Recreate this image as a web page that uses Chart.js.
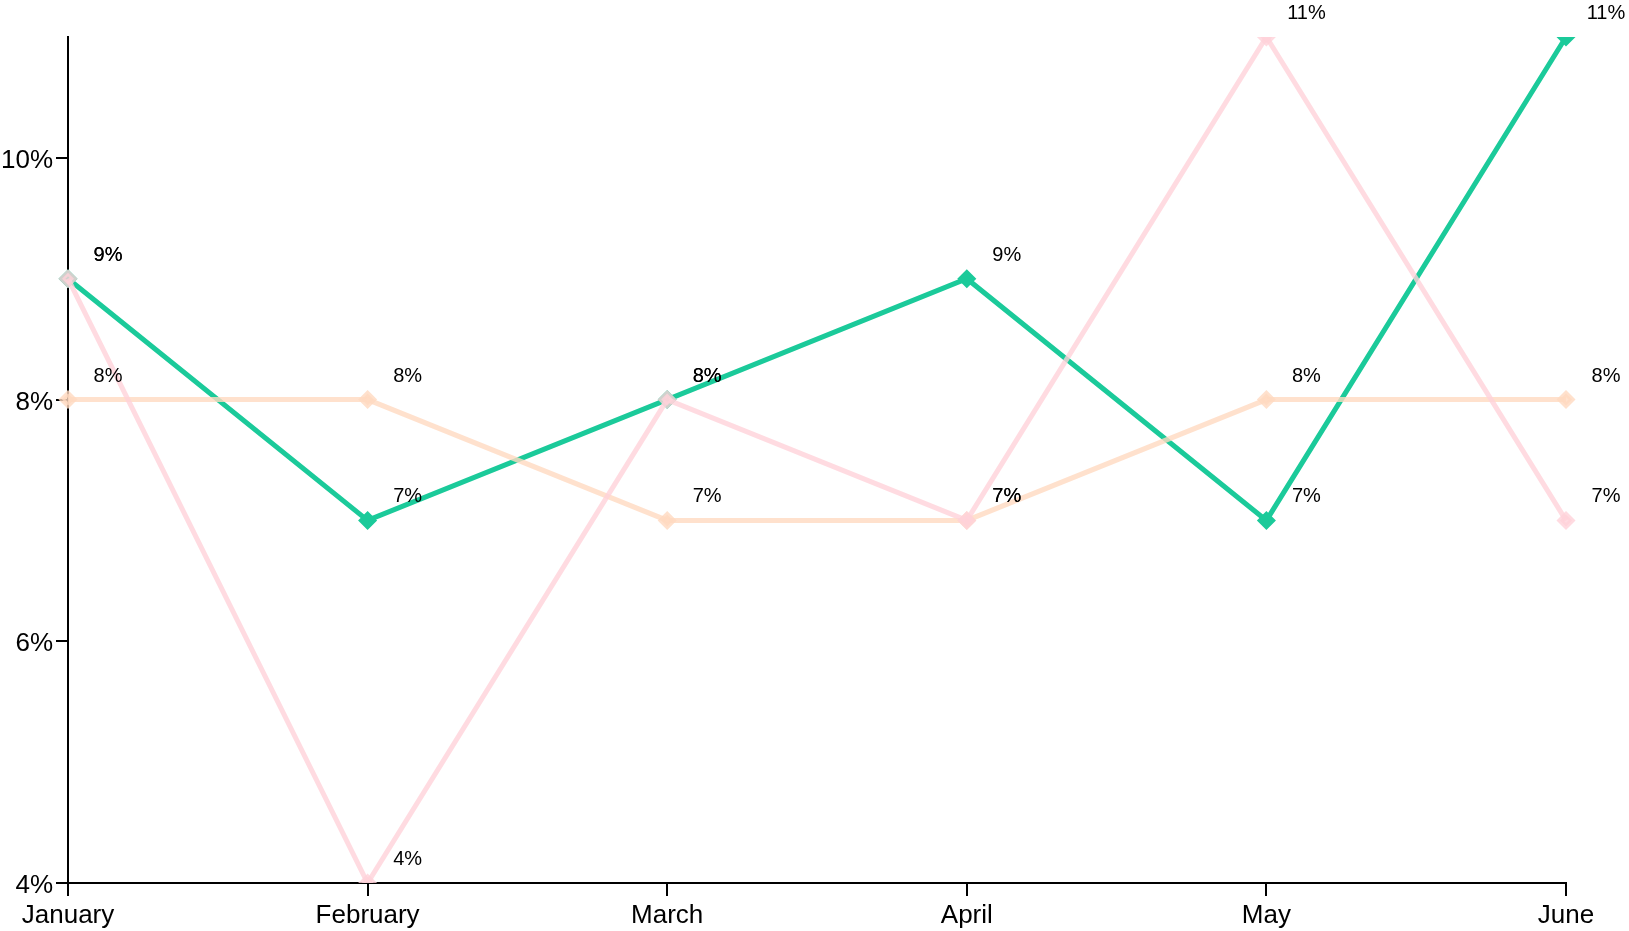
<!DOCTYPE html>
<html>
<head>
<meta charset="utf-8">
<script src="https://cdn.jsdelivr.net/npm/chart.js@4"></script>
<style>
html,body{margin:0;padding:0;background:#fff;}
#wrap{width:1629px;height:931px;position:relative;}
</style>
</head>
<body>
<div id="wrap"><canvas id="c"></canvas></div>
<script>
const categories = ['January','February','March','April','May','June'];
const greenValues = [9, 7, 8, 9, 7, 11];
const peachValues = [8, 8, 7, 7, 8, 8];
const pinkValues  = [9, 4, 8, 7, 11, 7];
const yTicks = [4, 6, 8, 10];
const yMin = 4, yMax = 11;

const FONT = '"Liberation Sans", Arial, sans-serif';

const dataLabels = {
  id: 'dataLabels',
  afterDatasetsDraw(chart) {
    const ctx = chart.ctx;
    ctx.save();
    ctx.font = '20px ' + FONT;
    ctx.fillStyle = '#000';
    ctx.textAlign = 'center';
    ctx.textBaseline = 'alphabetic';
    chart.data.datasets.forEach((ds, i) => {
      const meta = chart.getDatasetMeta(i);
      meta.data.forEach((pt, j) => {
        ctx.fillText(ds.data[j] + '%', pt.x + 40, pt.y - 18);
      });
    });
    ctx.restore();
  }
};

new Chart(document.getElementById('c'), {
  type: 'line',
  data: {
    labels: categories,
    datasets: [
      {
        data: pinkValues,
        borderColor: 'rgba(255,210,218,0.8)',
        backgroundColor: 'rgba(255,210,218,0.8)',
        pointBackgroundColor: 'rgba(255,210,218,0.8)',
        pointBorderColor: 'rgba(255,210,218,0.8)',
        borderWidth: 5, pointStyle: 'rectRot', pointRadius: 6, tension: 0, fill: false
      },
      {
        data: peachValues,
        borderColor: 'rgba(255,218,192,0.8)',
        backgroundColor: 'rgba(255,218,192,0.8)',
        pointBackgroundColor: 'rgba(255,218,192,0.8)',
        pointBorderColor: 'rgba(255,218,192,0.8)',
        borderWidth: 5, pointStyle: 'rectRot', pointRadius: 6, tension: 0, fill: false
      },
      {
        data: greenValues,
        borderColor: '#1bca9a',
        backgroundColor: '#1bca9a',
        pointBackgroundColor: '#1bca9a',
        pointBorderColor: '#1bca9a',
        borderWidth: 5, pointStyle: 'rectRot', pointRadius: 6, tension: 0, fill: false
      }
    ]
  },
  options: {
    responsive: true,
    maintainAspectRatio: false,
    animation: false,
    layout: { padding: { top: 37, right: 63, left: 0, bottom: 0 } },
    plugins: { legend: { display: false }, tooltip: { enabled: false } },
    scales: {
      x: {
        type: 'category',
        offset: false,
        grid: { drawOnChartArea: false, drawTicks: true, tickLength: 13, color: '#000', lineWidth: 2 },
        border: { display: true, color: '#000', width: 2 },
        ticks: { color: '#000', font: { size: 26, family: FONT }, padding: 4, maxRotation: 0, autoSkip: false },
        afterFit(scale) { scale.height = 48; }
      },
      y: {
        min: yMin, max: yMax,
        afterBuildTicks(scale) { scale.ticks = yTicks.map(v => ({ value: v })); },
        grid: { drawOnChartArea: false, drawTicks: true, tickLength: 12, color: '#000', lineWidth: 2 },
        border: { display: true, color: '#000', width: 2 },
        ticks: { color: '#000', font: { size: 26, family: FONT }, padding: 3, labelOffset: 3, callback: v => v + '%' },
        afterFit(scale) { scale.width = 68; }
      }
    }
  },
  plugins: [dataLabels]
});
</script>
</body>
</html>
